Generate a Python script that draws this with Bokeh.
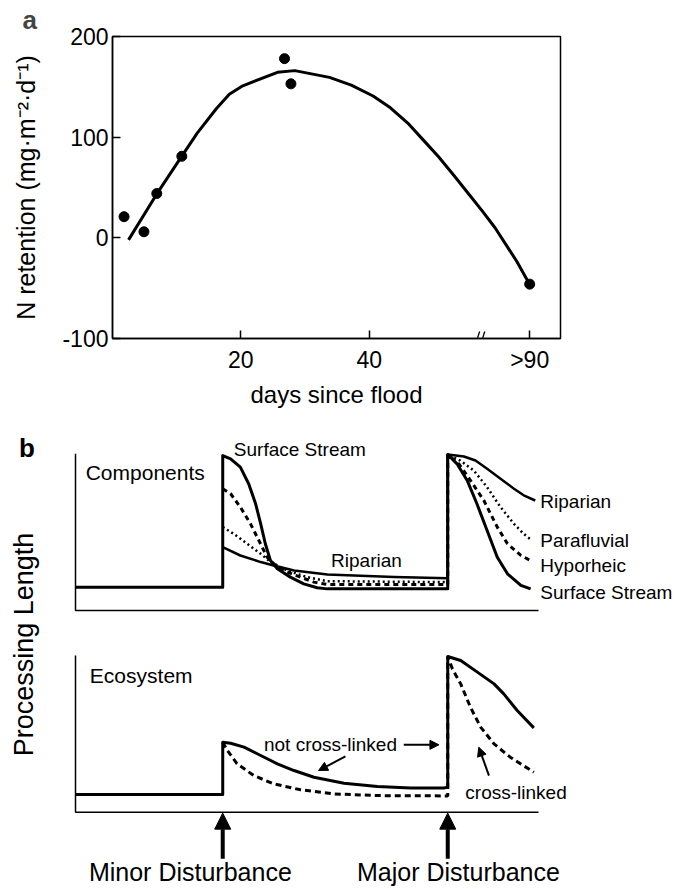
import math
from bokeh.plotting import figure
from bokeh.models import Range1d, FixedTicker, Arrow, NormalHead
from bokeh.embed import file_html
from bokeh.resources import INLINE
from bokeh.core.properties import value

FONT = "Liberation Sans"

# ---------------- panel a data ----------------
days_obs = [1.8, 4.9, 6.9, 10.8, 26.8, 27.8, 65.0]
n_obs = [21, 6, 44, 81, 178, 153, -46]
days_fit = [2.5, 6.9, 10.8, 13.2, 16.2, 18.2, 20.3, 25.7, 28.4, 33.8, 37.2, 40.6,
            43.3, 46.0, 48.4, 50.8, 53.2, 55.5, 57.6, 59.6, 61.3, 63.0, 65.0]
n_fit = [-2, 43.6, 81.2, 104, 128.5, 142.6, 151, 164.4, 166.1, 159.4, 151.7, 140.9,
         129.2, 114, 97.3, 80.5, 62, 43.6, 26.8, 10, -6.7, -23.5, -46.3]
x_ticks = [20, 40, 65]
x_tick_labels = ["20", "40", ">90"]
y_ticks = [-100, 0, 100, 200]
y_tick_labels = ["-100", "0", "100", "200"]
AXIS_BREAK = 57.3

# ---------------- panel b data (schematic time t, level v) ----------------
MINOR = 31.8
MAJOR = 80.4
ss_t = [0, 31.8, 31.8, 33.5, 35.6, 37.4, 38.9, 40.0, 41.0, 42.1, 43.6, 46.4, 49.3, 52.2, 54.4,
        80.4, 80.4, 82.4, 84.6, 86.7, 88.9, 91.1, 93.3, 96.2, 98.3]
ss_v = [14.9, 14.9, 98.9, 96.8, 91.5, 80.9, 68.1, 55.3, 42.6, 31.9, 26.6, 21.3, 17.0, 14.5, 13.8,
        13.8, 99.6, 93.6, 83.0, 68.1, 51.1, 34.0, 23.4, 16.0, 13.8]
hy_t = [31.8, 33.5, 35.6, 37.8, 39.6, 41.4, 42.8, 45.7, 48.6, 51.5, 54.4, 80.4,
        80.4, 82.8, 85.3, 88.2, 91.1, 93.3, 96.2, 98.3]
hy_v = [77.7, 74.5, 66.0, 55.3, 44.7, 34.0, 29.8, 24.5, 21.3, 18.1, 16.6, 16.6,
        99.6, 93.6, 83.0, 70.2, 53.2, 42.6, 35.1, 31.9]
pf_t = [31.8, 34.2, 37.1, 40.0, 42.1, 45.7, 50.0, 54.4, 80.4,
        80.4, 83.1, 86.0, 88.9, 91.8, 94.7, 96.8, 98.6]
pf_v = [53.2, 48.9, 42.6, 36.2, 30.9, 25.5, 21.3, 18.7, 18.1,
        99.6, 95.7, 89.4, 78.7, 66.0, 55.3, 48.9, 44.7]
rp_t = [31.8, 35.6, 40.0, 42.8, 47.2, 54.4, 68.8, 80.4,
        80.4, 83.9, 86.4, 88.9, 91.8, 94.7, 96.8, 99.3]
rp_v = [40.4, 35.1, 30.9, 28.7, 25.5, 23.0, 21.3, 20.6,
        99.6, 98.3, 95.7, 90.4, 84.1, 77.7, 73.5, 70.2]
nx_t = [0, 31.8, 31.8, 33.5, 36.4, 40.0, 43.6, 47.2, 51.5, 58.0, 65.2, 72.4, 79.6, 80.4,
        80.4, 83.2, 86.8, 90.4, 92.5, 95.4, 99.0]
nx_v = [11.3, 11.3, 44.7, 44.0, 41.5, 36.2, 30.9, 26.6, 22.3, 18.5, 16.4, 15.5, 15.5, 16.0,
        99.4, 96.8, 89.4, 81.9, 75.5, 64.9, 53.8]
cx_t = [31.8, 32.8, 34.9, 38.5, 42.8, 48.6, 55.8, 65.2, 80.4,
        80.4, 81.4, 83.2, 85.3, 87.5, 90.4, 93.9, 99.0]
cx_v = [44.7, 39.4, 30.9, 23.4, 18.1, 14.3, 11.7, 10.6, 10.4,
        99.4, 91.5, 81.9, 67.0, 54.3, 43.6, 35.1, 25.5]
AXIS_END = 100

# ======================= panel a =======================
pa = figure(width=678, height=420, output_backend="svg", toolbar_location=None,
            x_range=Range1d(0, 69.8), y_range=Range1d(-100, 200),
            min_border_left=112, min_border_right=118, min_border_top=34, min_border_bottom=82)
pa.xgrid.visible = False
pa.ygrid.visible = False
pa.outline_line_color = "black"
pa.outline_line_width = 1.5
pa.background_fill_color = "white"
pa.border_fill_color = "white"

pa.title.text = "a"
pa.title.text_font = FONT
pa.title.text_font_size = "26px"
pa.title.text_font_style = "bold"
pa.title.align = "left"
pa.title.offset = -90
pa.title.standoff = 4

for ax in (pa.xaxis[0], pa.yaxis[0]):
    ax.axis_line_color = "black"
    ax.axis_line_width = 1.5
    ax.major_tick_in = 8
    ax.major_tick_out = 0
    ax.major_tick_line_width = 1.5
    ax.major_tick_line_color = "black"
    ax.minor_tick_in = 0
    ax.minor_tick_out = 0
    ax.major_label_text_font = FONT
    ax.major_label_text_font_size = "23px"
    ax.major_label_text_color = "black"
    ax.axis_label_text_font = FONT
    ax.axis_label_text_font_style = "normal"
    ax.axis_label_text_color = "black"

pa.xaxis.ticker = FixedTicker(ticks=x_ticks)
pa.xaxis.major_label_overrides = {t: s for t, s in zip(x_ticks, x_tick_labels)}
pa.xaxis.axis_label = "days since flood"
pa.xaxis.axis_label_text_font_size = "24px"
pa.xaxis.major_label_standoff = 8
pa.xaxis.axis_label_standoff = 5

pa.yaxis.ticker = FixedTicker(ticks=y_ticks)
pa.yaxis.major_label_overrides = {t: s for t, s in zip(y_ticks, y_tick_labels)}
pa.yaxis.axis_label = "N retention (mg\u00b7m\u207b\u00b2\u00b7d\u207b\u00b9)"
pa.yaxis.axis_label_text_font_size = "25px"
pa.yaxis.major_label_standoff = 4
pa.yaxis.axis_label_standoff = 19

pa.line(days_fit, n_fit, line_color="black", line_width=3, line_join="round")
pa.scatter(days_obs, n_obs, size=10, fill_color="black", line_color="black")
pa.segment(x0=[AXIS_BREAK - 0.5, AXIS_BREAK + 0.3], y0=[-101, -101],
           x1=[AXIS_BREAK - 0.1, AXIS_BREAK + 0.7], y1=[-93, -93],
           line_color="black", line_width=1.3)

# ======================= panel b =======================
pb = figure(width=678, height=469, output_backend="svg", toolbar_location=None,
            x_range=Range1d(-16.2, 130.24), y_range=Range1d(-178.05, 121.25),
            x_axis_location=None, y_axis_location=None, min_border=0)
pb.extra_y_ranges = {"eco": Range1d(-49.33, 250.0)}
pb.xgrid.visible = False
pb.ygrid.visible = False
pb.outline_line_color = None
pb.background_fill_color = "white"
pb.border_fill_color = "white"

for rn in ("default", "eco"):
    pb.line([0, 0, AXIS_END], [AXIS_END, 0, 0], line_color="black", line_width=1.5, y_range_name=rn)

# components
pb.line(ss_t, ss_v, line_color="black", line_width=3, line_join="round")
pb.line(rp_t, rp_v, line_color="black", line_width=2.5, line_join="round")
pb.line(hy_t, hy_v, line_color="black", line_width=3, line_dash="5 4")
pb.line(pf_t, pf_v, line_color="black", line_width=2.5, line_dash="2 3")

# ecosystem
pb.line(nx_t, nx_v, line_color="black", line_width=3, line_join="round", y_range_name="eco")
pb.line(cx_t, cx_v, line_color="black", line_width=3, line_dash="6 4", y_range_name="eco")

def txt(x, y, s, size, rn="default", align="left", style="normal", angle=0.0):
    pb.text(x=[x], y=[y], text=[s], text_font=value(FONT), text_font_size=size,
            text_align=align, text_baseline="middle", text_color="black",
            text_font_style=style, angle=angle, y_range_name=rn)

txt(-10.5, 104, "b", "26px", style="bold", align="center")
txt(-11.2, -21.7, "Processing Length", "27px", align="center", angle=math.pi / 2)
txt(2.2, 88.3, "Components", "21px")
txt(34.2, 102.7, "Surface Stream", "19px")
txt(55.2, 31.9, "Riparian", "19px")
txt(100.4, 69.8, "Riparian", "19px")
txt(100.4, 44.7, "Parafluvial", "19px")
txt(100.4, 28.7, "Hyporheic", "19px")
txt(100.4, 11.7, "Surface Stream", "19px")
txt(3.1, 87.2, "Ecosystem", "21px", rn="eco")
txt(40.7, 43.2, "not cross-linked", "19px", rn="eco")
txt(84.2, 12.8, "cross-linked", "19px", rn="eco")
txt(2.9, -38.3, "Minor Disturbance", "25px", rn="eco")
txt(60.8, -38.3, "Major Disturbance", "25px", rn="eco")

def arrow(x0, y0, x1, y1, lw, size):
    pb.add_layout(Arrow(end=NormalHead(size=size, fill_color="black", line_color="black"),
                        x_start=x0, y_start=y0, x_end=x1, y_end=y1,
                        line_color="black", line_width=lw, y_range_name="eco"))

arrow(70.9, 43.0, 78.5, 43.0, 2, 9)
arrow(58.3, 35.6, 52.5, 26.6, 2, 9)
arrow(89.3, 23.4, 87.1, 41.5, 2, 9)
arrow(MINOR, -29.7, MINOR, -0.6, 4, 16)
arrow(MAJOR, -29.7, MAJOR, -0.6, 4, 16)

open("out.html", "w").write(file_html([pa, pb], INLINE))
